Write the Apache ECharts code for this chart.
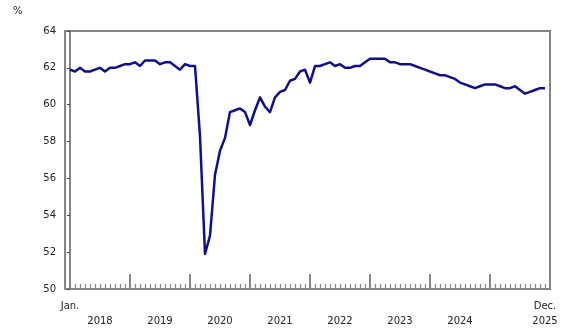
<!DOCTYPE html>
<html>
<head>
<meta charset="utf-8">
<script src="https://cdn.jsdelivr.net/npm/echarts@6/dist/echarts.min.js"></script>
<style>
html,body{margin:0;padding:0;background:#fff;}
#c{width:580px;height:335px;}
</style>
</head>
<body>
<div id="c"></div>
<script>
// Monthly values, Jan. 2018 to Dec. 2025 (%)
const years = ['2018','2019','2020','2021','2022','2023','2024','2025'];
const rate2018 = [61.9, 61.8, 62.0, 61.8, 61.8, 61.9, 62.0, 61.8, 62.0, 62.0, 62.1, 62.2];
const rate2019 = [62.2, 62.3, 62.1, 62.4, 62.4, 62.4, 62.2, 62.3, 62.3, 62.1, 61.9, 62.2];
const rate2020 = [62.1, 62.1, 58.3, 51.9, 52.9, 56.2, 57.5, 58.2, 59.6, 59.7, 59.8, 59.6];
const rate2021 = [58.9, 59.7, 60.4, 59.9, 59.6, 60.4, 60.7, 60.8, 61.3, 61.4, 61.8, 61.9];
const rate2022 = [61.2, 62.1, 62.1, 62.2, 62.3, 62.1, 62.2, 62.0, 62.0, 62.1, 62.1, 62.3];
const rate2023 = [62.5, 62.5, 62.5, 62.5, 62.3, 62.3, 62.2, 62.2, 62.2, 62.1, 62.0, 61.9];
const rate2024 = [61.8, 61.7, 61.6, 61.6, 61.5, 61.4, 61.2, 61.1, 61.0, 60.9, 61.0, 61.1];
const rate2025 = [61.1, 61.1, 61.0, 60.9, 60.9, 61.0, 60.8, 60.6, 60.7, 60.8, 60.9, 60.9];
const firstMonthLabel = 'Jan.';
const lastMonthLabel = 'Dec.';
const yMin = 50, yMax = 64, yStep = 2;

const rate = [].concat(rate2018, rate2019, rate2020, rate2021, rate2022, rate2023, rate2024, rate2025);
const n = rate.length;
const data = rate.map((v, i) => [i, v]);
const yearStarts = years.map((y, k) => k * 12);
const yearLabelPos = years.map((y, k) => k === years.length - 1 ? n - 1 : k * 12 + 6);
const allMonths = rate.map((v, i) => i);

const gray = '#858585';
const txt = '#222';
const font = 'DejaVu Sans, Verdana, sans-serif';

const chart = echarts.init(document.getElementById('c'), null, {renderer: 'canvas'});
chart.setOption({
  animation: false,
  title: {
    text: '%', left: 8, top: 1,
    textStyle: {fontSize: 10, fontWeight: 'normal', color: txt, fontFamily: font}
  },
  grid: {
    left: 65, right: 30, top: 31, bottom: 46,
    show: true, borderColor: gray, borderWidth: 2, backgroundColor: 'transparent'
  },
  xAxis: [
    {
      type: 'value', min: -1, max: n, position: 'bottom',
      axisLine: {show: true, lineStyle: {color: gray, width: 2}},
      splitLine: {show: false},
      axisTick: {show: true, inside: true, length: 15, customValues: yearStarts, lineStyle: {color: gray, width: 2}},
      axisLabel: {
        show: true, customValues: yearLabelPos, margin: 27,
        fontSize: 10, color: txt, fontFamily: font,
        formatter: function (v) { const i = yearLabelPos.indexOf(v); return i >= 0 ? years[i] : ''; }
      }
    },
    {
      type: 'value', min: -1, max: n, position: 'bottom',
      axisLine: {show: false},
      splitLine: {show: false},
      axisTick: {show: true, inside: true, length: 5, customValues: allMonths, lineStyle: {color: gray, width: 1.2}},
      axisLabel: {
        show: true, customValues: [0, n - 1], margin: 12,
        fontSize: 10, color: txt, fontFamily: font,
        formatter: function (v) { return v === 0 ? firstMonthLabel : (v === n - 1 ? lastMonthLabel : ''); }
      }
    }
  ],
  yAxis: {
    type: 'value', min: yMin, max: yMax, interval: yStep,
    axisLine: {show: true, lineStyle: {color: gray, width: 2}},
    axisTick: {show: true, length: 3, lineStyle: {color: '#444', width: 1}},
    splitLine: {show: false},
    axisLabel: {fontSize: 10, color: txt, margin: 9, fontFamily: font}
  },
  series: [{
    type: 'line', xAxisIndex: 0, data: data,
    showSymbol: false, symbol: 'none',
    lineStyle: {color: '#0f0f8a', width: 2.5, join: 'round'},
    z: 5
  }]
});
</script>
</body>
</html>
